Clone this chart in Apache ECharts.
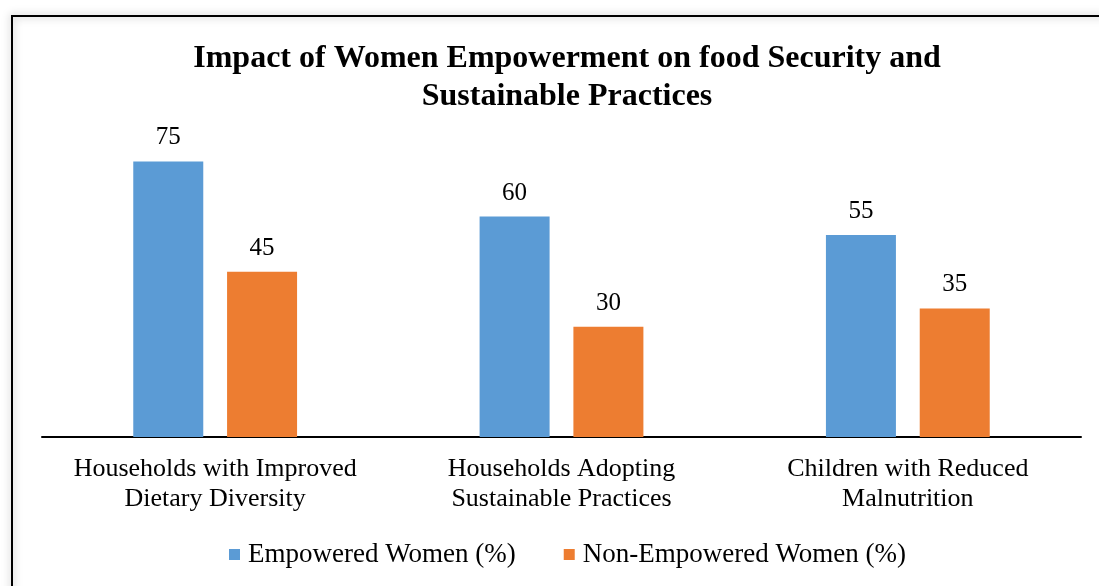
<!DOCTYPE html>
<html>
<head>
<meta charset="utf-8">
<script src="https://cdn.jsdelivr.net/npm/echarts@6/dist/echarts.min.js"></script>
<style>
  html, body { margin: 0; padding: 0; background: #fff; }
  #chart { width: 1099px; height: 586px; }
</style>
</head>
<body>
<div id="chart"></div>
<script>
const categories = [
  'Households with Improved\nDietary Diversity',
  'Households Adopting\nSustainable Practices',
  'Children with Reduced\nMalnutrition'
];
const empoweredWomen = [75, 60, 55];
const nonEmpoweredWomen = [45, 30, 35];
const seriesNames = ['Empowered Women (%)', 'Non-Empowered Women (%)'];

const serif = '"Liberation Serif", "Times New Roman", serif';
const chart = echarts.init(document.getElementById('chart'));

chart.setOption({
  animation: false,
  title: {
    text: 'Impact of Women Empowerment on food Security and\nSustainable Practices',
    left: 562,
    textAlign: 'center',
    top: 35,
    textStyle: {
      fontFamily: serif,
      fontSize: 32,
      fontWeight: 'bold',
      color: '#000',
      lineHeight: 38
    }
  },
  graphic: [{
    type: 'rect',
    shape: { x: 12, y: 16, width: 1200, height: 700 },
    style: {
      fill: 'none',
      stroke: '#000',
      lineWidth: 2,
      shadowBlur: 8,
      shadowColor: 'rgba(0,0,0,0.35)'
    },
    z: -1
  }],
  legend: {
    data: seriesNames,
    left: 224,
    top: 536,
    itemWidth: 11,
    itemHeight: 11,
    itemGap: 48,
    icon: 'rect',
    textStyle: { fontFamily: serif, fontSize: 27, color: '#000', padding: [0, 0, 0, 3] }
  },
  grid: { left: 42, right: 18, top: 143, bottom: 149, containLabel: false },
  xAxis: {
    type: 'category',
    data: categories,
    axisLine: { lineStyle: { color: '#000', width: 2 } },
    axisTick: { show: false },
    axisLabel: {
      fontFamily: serif,
      fontSize: 26,
      color: '#000',
      lineHeight: 30,
      margin: 17,
      interval: 0
    }
  },
  yAxis: {
    type: 'value',
    min: 0,
    max: 80,
    show: false,
    splitLine: { show: false }
  },
  series: [
    {
      name: seriesNames[0],
      type: 'bar',
      data: empoweredWomen,
      barWidth: 70,
      barGap: '34%',
      itemStyle: { color: '#5B9BD5' },
      label: { show: true, position: 'top', distance: 11, fontFamily: serif, fontSize: 25, color: '#000' }
    },
    {
      name: seriesNames[1],
      type: 'bar',
      data: nonEmpoweredWomen,
      barWidth: 70,
      itemStyle: { color: '#ED7D31' },
      label: { show: true, position: 'top', distance: 11, fontFamily: serif, fontSize: 25, color: '#000' }
    }
  ]
});
</script>
</body>
</html>
